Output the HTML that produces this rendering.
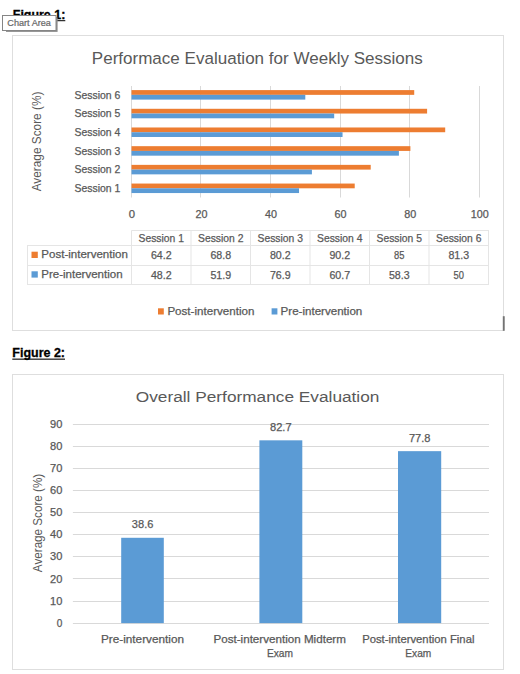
<!DOCTYPE html>
<html><head><meta charset="utf-8"><title>Figures</title>
<style>
html,body{margin:0;padding:0;background:#fff;width:520px;height:674px;overflow:hidden;}
svg{display:block;font-family:"Liberation Sans", sans-serif;}
</style></head>
<body>
<svg width="520" height="674" viewBox="0 0 520 674">
<defs><filter id="blur" x="-20%" y="-50%" width="140%" height="200%"><feGaussianBlur stdDeviation="0.5"/></filter></defs>
<rect x="0" y="0" width="520" height="674" fill="#fff"/>
<text x="12.8" y="18.9" font-size="12.85" text-anchor="start" fill="#000" font-weight="bold" textLength="52.5" lengthAdjust="spacingAndGlyphs" stroke="#000" stroke-width="0.3">Figure 1:</text>
<rect x="12.8" y="20.2" width="52.5" height="1" fill="#000" />
<rect x="12.5" y="35.5" width="491" height="295" fill="#fff" stroke="#dedede" stroke-width="1"/>
<text x="91.8" y="63.8" font-size="16.8" text-anchor="start" fill="#595959" textLength="331" lengthAdjust="spacingAndGlyphs" >Performace Evaluation for Weekly Sessions</text>
<line x1="131.5" y1="86" x2="131.5" y2="197.5" stroke="#d9d9d9" stroke-width="1" />
<line x1="200.5" y1="86" x2="200.5" y2="197.5" stroke="#d9d9d9" stroke-width="1" />
<line x1="270.5" y1="86" x2="270.5" y2="197.5" stroke="#d9d9d9" stroke-width="1" />
<line x1="340.5" y1="86" x2="340.5" y2="197.5" stroke="#d9d9d9" stroke-width="1" />
<line x1="409.5" y1="86" x2="409.5" y2="197.5" stroke="#d9d9d9" stroke-width="1" />
<line x1="479.5" y1="86" x2="479.5" y2="197.5" stroke="#d9d9d9" stroke-width="1" />
<rect x="131.5" y="183.55" width="223.22" height="4.75" fill="#ED7D31" />
<rect x="131.5" y="188.3" width="167.54" height="4.75" fill="#5B9BD5" />
<text x="120.3" y="192.1" font-size="10.6" text-anchor="end" fill="#595959" stroke="#595959" stroke-width="0.25" textLength="45.8" lengthAdjust="spacingAndGlyphs" >Session 1</text>
<rect x="131.5" y="164.86" width="239.22" height="4.75" fill="#ED7D31" />
<rect x="131.5" y="169.61" width="180.41" height="4.75" fill="#5B9BD5" />
<text x="120.3" y="173.41" font-size="10.6" text-anchor="end" fill="#595959" stroke="#595959" stroke-width="0.25" textLength="45.8" lengthAdjust="spacingAndGlyphs" >Session 2</text>
<rect x="131.5" y="146.17" width="278.9" height="4.75" fill="#ED7D31" />
<rect x="131.5" y="150.92" width="267.41" height="4.75" fill="#5B9BD5" />
<text x="120.3" y="154.72" font-size="10.6" text-anchor="end" fill="#595959" stroke="#595959" stroke-width="0.25" textLength="45.8" lengthAdjust="spacingAndGlyphs" >Session 3</text>
<rect x="131.5" y="127.48" width="313.7" height="4.75" fill="#ED7D31" />
<rect x="131.5" y="132.23" width="211.04" height="4.75" fill="#5B9BD5" />
<text x="120.3" y="136.03" font-size="10.6" text-anchor="end" fill="#595959" stroke="#595959" stroke-width="0.25" textLength="45.8" lengthAdjust="spacingAndGlyphs" >Session 4</text>
<rect x="131.5" y="108.79" width="295.6" height="4.75" fill="#ED7D31" />
<rect x="131.5" y="113.54" width="202.68" height="4.75" fill="#5B9BD5" />
<text x="120.3" y="117.34" font-size="10.6" text-anchor="end" fill="#595959" stroke="#595959" stroke-width="0.25" textLength="45.8" lengthAdjust="spacingAndGlyphs" >Session 5</text>
<rect x="131.5" y="90.1" width="282.72" height="4.75" fill="#ED7D31" />
<rect x="131.5" y="94.85" width="173.8" height="4.75" fill="#5B9BD5" />
<text x="120.3" y="98.65" font-size="10.6" text-anchor="end" fill="#595959" stroke="#595959" stroke-width="0.25" textLength="45.8" lengthAdjust="spacingAndGlyphs" >Session 6</text>
<text x="131.8" y="217.6" font-size="10.6" text-anchor="middle" fill="#595959" stroke="#595959" stroke-width="0.25" textLength="6.3" lengthAdjust="spacingAndGlyphs" >0</text>
<text x="201.4" y="217.6" font-size="10.6" text-anchor="middle" fill="#595959" stroke="#595959" stroke-width="0.25" textLength="12.0" lengthAdjust="spacingAndGlyphs" >20</text>
<text x="271.0" y="217.6" font-size="10.6" text-anchor="middle" fill="#595959" stroke="#595959" stroke-width="0.25" textLength="12.0" lengthAdjust="spacingAndGlyphs" >40</text>
<text x="340.6" y="217.6" font-size="10.6" text-anchor="middle" fill="#595959" stroke="#595959" stroke-width="0.25" textLength="12.0" lengthAdjust="spacingAndGlyphs" >60</text>
<text x="410.2" y="217.6" font-size="10.6" text-anchor="middle" fill="#595959" stroke="#595959" stroke-width="0.25" textLength="12.0" lengthAdjust="spacingAndGlyphs" >80</text>
<text x="479.8" y="217.6" font-size="10.6" text-anchor="middle" fill="#595959" stroke="#595959" stroke-width="0.25" textLength="18.0" lengthAdjust="spacingAndGlyphs" >100</text>
<text transform="translate(41.3,141.5) rotate(-90)" x="0" y="0" font-size="12" text-anchor="middle" fill="#595959" textLength="99.7" lengthAdjust="spacingAndGlyphs">Average Score (%)</text>
<line x1="131.5" y1="230.5" x2="489" y2="230.5" stroke="#e5e5e5" stroke-width="1" />
<line x1="27" y1="245.5" x2="489" y2="245.5" stroke="#e5e5e5" stroke-width="1" />
<line x1="27" y1="265.5" x2="489" y2="265.5" stroke="#e5e5e5" stroke-width="1" />
<line x1="27" y1="284.5" x2="489" y2="284.5" stroke="#e5e5e5" stroke-width="1" />
<line x1="27.5" y1="245.5" x2="27.5" y2="284.5" stroke="#e5e5e5" stroke-width="1" />
<line x1="131.5" y1="230.5" x2="131.5" y2="284.5" stroke="#e5e5e5" stroke-width="1" />
<line x1="191" y1="230.5" x2="191" y2="284.5" stroke="#e5e5e5" stroke-width="1" />
<line x1="250.5" y1="230.5" x2="250.5" y2="284.5" stroke="#e5e5e5" stroke-width="1" />
<line x1="310" y1="230.5" x2="310" y2="284.5" stroke="#e5e5e5" stroke-width="1" />
<line x1="369.5" y1="230.5" x2="369.5" y2="284.5" stroke="#e5e5e5" stroke-width="1" />
<line x1="429" y1="230.5" x2="429" y2="284.5" stroke="#e5e5e5" stroke-width="1" />
<line x1="488.5" y1="230.5" x2="488.5" y2="284.5" stroke="#e5e5e5" stroke-width="1" />
<text x="161.25" y="241.5" font-size="10.6" text-anchor="middle" fill="#595959" stroke="#595959" stroke-width="0.25" textLength="45.3" lengthAdjust="spacingAndGlyphs" >Session 1</text>
<text x="161.25" y="259.2" font-size="10.6" text-anchor="middle" fill="#595959" stroke="#595959" stroke-width="0.25" textLength="20.7" lengthAdjust="spacingAndGlyphs" >64.2</text>
<text x="161.25" y="278.5" font-size="10.6" text-anchor="middle" fill="#595959" stroke="#595959" stroke-width="0.25" textLength="20.7" lengthAdjust="spacingAndGlyphs" >48.2</text>
<text x="220.75" y="241.5" font-size="10.6" text-anchor="middle" fill="#595959" stroke="#595959" stroke-width="0.25" textLength="45.3" lengthAdjust="spacingAndGlyphs" >Session 2</text>
<text x="220.75" y="259.2" font-size="10.6" text-anchor="middle" fill="#595959" stroke="#595959" stroke-width="0.25" textLength="20.7" lengthAdjust="spacingAndGlyphs" >68.8</text>
<text x="220.75" y="278.5" font-size="10.6" text-anchor="middle" fill="#595959" stroke="#595959" stroke-width="0.25" textLength="20.7" lengthAdjust="spacingAndGlyphs" >51.9</text>
<text x="280.25" y="241.5" font-size="10.6" text-anchor="middle" fill="#595959" stroke="#595959" stroke-width="0.25" textLength="45.3" lengthAdjust="spacingAndGlyphs" >Session 3</text>
<text x="280.25" y="259.2" font-size="10.6" text-anchor="middle" fill="#595959" stroke="#595959" stroke-width="0.25" textLength="20.7" lengthAdjust="spacingAndGlyphs" >80.2</text>
<text x="280.25" y="278.5" font-size="10.6" text-anchor="middle" fill="#595959" stroke="#595959" stroke-width="0.25" textLength="20.7" lengthAdjust="spacingAndGlyphs" >76.9</text>
<text x="339.75" y="241.5" font-size="10.6" text-anchor="middle" fill="#595959" stroke="#595959" stroke-width="0.25" textLength="45.3" lengthAdjust="spacingAndGlyphs" >Session 4</text>
<text x="339.75" y="259.2" font-size="10.6" text-anchor="middle" fill="#595959" stroke="#595959" stroke-width="0.25" textLength="20.7" lengthAdjust="spacingAndGlyphs" >90.2</text>
<text x="339.75" y="278.5" font-size="10.6" text-anchor="middle" fill="#595959" stroke="#595959" stroke-width="0.25" textLength="20.7" lengthAdjust="spacingAndGlyphs" >60.7</text>
<text x="399.25" y="241.5" font-size="10.6" text-anchor="middle" fill="#595959" stroke="#595959" stroke-width="0.25" textLength="45.3" lengthAdjust="spacingAndGlyphs" >Session 5</text>
<text x="399.25" y="259.2" font-size="10.6" text-anchor="middle" fill="#595959" stroke="#595959" stroke-width="0.25" textLength="10.4" lengthAdjust="spacingAndGlyphs" >85</text>
<text x="399.25" y="278.5" font-size="10.6" text-anchor="middle" fill="#595959" stroke="#595959" stroke-width="0.25" textLength="20.7" lengthAdjust="spacingAndGlyphs" >58.3</text>
<text x="458.75" y="241.5" font-size="10.6" text-anchor="middle" fill="#595959" stroke="#595959" stroke-width="0.25" textLength="45.3" lengthAdjust="spacingAndGlyphs" >Session 6</text>
<text x="458.75" y="259.2" font-size="10.6" text-anchor="middle" fill="#595959" stroke="#595959" stroke-width="0.25" textLength="20.7" lengthAdjust="spacingAndGlyphs" >81.3</text>
<text x="458.75" y="278.5" font-size="10.6" text-anchor="middle" fill="#595959" stroke="#595959" stroke-width="0.25" textLength="10.4" lengthAdjust="spacingAndGlyphs" >50</text>
<rect x="31.5" y="251.7" width="6.3" height="6.3" fill="#ED7D31" />
<rect x="31.5" y="271.3" width="6.3" height="6.3" fill="#5B9BD5" />
<text x="41.3" y="258.4" font-size="10.6" text-anchor="start" fill="#595959" stroke="#595959" stroke-width="0.25" textLength="86.6" lengthAdjust="spacingAndGlyphs" >Post-intervention</text>
<text x="41.3" y="278.0" font-size="10.6" text-anchor="start" fill="#595959" stroke="#595959" stroke-width="0.25" textLength="81.3" lengthAdjust="spacingAndGlyphs" >Pre-intervention</text>
<rect x="158" y="308.3" width="5.8" height="6.2" fill="#ED7D31" />
<text x="167.4" y="315.1" font-size="10.6" text-anchor="start" fill="#595959" stroke="#595959" stroke-width="0.25" textLength="87" lengthAdjust="spacingAndGlyphs" >Post-intervention</text>
<rect x="271.6" y="308.3" width="5.8" height="6.2" fill="#5B9BD5" />
<text x="280.6" y="315.1" font-size="10.6" text-anchor="start" fill="#595959" stroke="#595959" stroke-width="0.25" textLength="81.7" lengthAdjust="spacingAndGlyphs" >Pre-intervention</text>
<rect x="502.8" y="316.2" width="1.9" height="14.6" fill="#737373" />
<text x="12.3" y="356.9" font-size="12.85" text-anchor="start" fill="#000" font-weight="bold" textLength="52.7" lengthAdjust="spacingAndGlyphs" stroke="#000" stroke-width="0.3">Figure 2:</text>
<rect x="12.3" y="358.6" width="52.7" height="1.1" fill="#000" />
<rect x="12.5" y="374.5" width="491" height="295" fill="#fff" stroke="#dedede" stroke-width="1"/>
<text x="135.8" y="401.5" font-size="15.4" text-anchor="start" fill="#595959" textLength="243.6" lengthAdjust="spacingAndGlyphs" >Overall Performance Evaluation</text>
<line x1="72.9" y1="623.5" x2="489" y2="623.5" stroke="#d9d9d9" stroke-width="1" />
<text x="62.3" y="626.7" font-size="10.6" text-anchor="end" fill="#595959" stroke="#595959" stroke-width="0.25" textLength="5.6" lengthAdjust="spacingAndGlyphs" >0</text>
<line x1="72.9" y1="601.5" x2="489" y2="601.5" stroke="#d9d9d9" stroke-width="1" />
<text x="62.3" y="604.6" font-size="10.6" text-anchor="end" fill="#595959" stroke="#595959" stroke-width="0.25" textLength="12.3" lengthAdjust="spacingAndGlyphs" >10</text>
<line x1="72.9" y1="578.5" x2="489" y2="578.5" stroke="#d9d9d9" stroke-width="1" />
<text x="62.3" y="582.5" font-size="10.6" text-anchor="end" fill="#595959" stroke="#595959" stroke-width="0.25" textLength="12.3" lengthAdjust="spacingAndGlyphs" >20</text>
<line x1="72.9" y1="556.5" x2="489" y2="556.5" stroke="#d9d9d9" stroke-width="1" />
<text x="62.3" y="560.4" font-size="10.6" text-anchor="end" fill="#595959" stroke="#595959" stroke-width="0.25" textLength="12.3" lengthAdjust="spacingAndGlyphs" >30</text>
<line x1="72.9" y1="534.5" x2="489" y2="534.5" stroke="#d9d9d9" stroke-width="1" />
<text x="62.3" y="538.3" font-size="10.6" text-anchor="end" fill="#595959" stroke="#595959" stroke-width="0.25" textLength="12.3" lengthAdjust="spacingAndGlyphs" >40</text>
<line x1="72.9" y1="512.5" x2="489" y2="512.5" stroke="#d9d9d9" stroke-width="1" />
<text x="62.3" y="516.2" font-size="10.6" text-anchor="end" fill="#595959" stroke="#595959" stroke-width="0.25" textLength="12.3" lengthAdjust="spacingAndGlyphs" >50</text>
<line x1="72.9" y1="490.5" x2="489" y2="490.5" stroke="#d9d9d9" stroke-width="1" />
<text x="62.3" y="494.1" font-size="10.6" text-anchor="end" fill="#595959" stroke="#595959" stroke-width="0.25" textLength="12.3" lengthAdjust="spacingAndGlyphs" >60</text>
<line x1="72.9" y1="468.5" x2="489" y2="468.5" stroke="#d9d9d9" stroke-width="1" />
<text x="62.3" y="472.0" font-size="10.6" text-anchor="end" fill="#595959" stroke="#595959" stroke-width="0.25" textLength="12.3" lengthAdjust="spacingAndGlyphs" >70</text>
<line x1="72.9" y1="446.5" x2="489" y2="446.5" stroke="#d9d9d9" stroke-width="1" />
<text x="62.3" y="449.9" font-size="10.6" text-anchor="end" fill="#595959" stroke="#595959" stroke-width="0.25" textLength="12.3" lengthAdjust="spacingAndGlyphs" >80</text>
<line x1="72.9" y1="424.5" x2="489" y2="424.5" stroke="#d9d9d9" stroke-width="1" />
<text x="62.3" y="427.8" font-size="10.6" text-anchor="end" fill="#595959" stroke="#595959" stroke-width="0.25" textLength="12.3" lengthAdjust="spacingAndGlyphs" >90</text>
<rect x="121.2" y="537.79" width="42.60000000000001" height="85.31" fill="#5B9BD5" />
<text x="142.6" y="528.39" font-size="10.6" text-anchor="middle" fill="#595959" stroke="#595959" stroke-width="0.25" textLength="21.5" lengthAdjust="spacingAndGlyphs" >38.6</text>
<rect x="259.4" y="440.33" width="42.900000000000034" height="182.77" fill="#5B9BD5" />
<text x="280.8" y="430.93" font-size="10.6" text-anchor="middle" fill="#595959" stroke="#595959" stroke-width="0.25" textLength="21.5" lengthAdjust="spacingAndGlyphs" >82.7</text>
<rect x="398.0" y="451.16" width="43.19999999999999" height="171.94" fill="#5B9BD5" />
<text x="419.7" y="441.76" font-size="10.6" text-anchor="middle" fill="#595959" stroke="#595959" stroke-width="0.25" textLength="21.5" lengthAdjust="spacingAndGlyphs" >77.8</text>
<text x="142.5" y="642.7" font-size="10.6" text-anchor="middle" fill="#595959" stroke="#595959" stroke-width="0.25" textLength="83" lengthAdjust="spacingAndGlyphs" >Pre-intervention</text>
<text x="279.7" y="642.7" font-size="10.6" text-anchor="middle" fill="#595959" stroke="#595959" stroke-width="0.25" textLength="132.5" lengthAdjust="spacingAndGlyphs" >Post-intervention Midterm</text>
<text x="279.9" y="657.3" font-size="10.6" text-anchor="middle" fill="#595959" stroke="#595959" stroke-width="0.25" textLength="26" lengthAdjust="spacingAndGlyphs" >Exam</text>
<text x="418.3" y="642.7" font-size="10.6" text-anchor="middle" fill="#595959" stroke="#595959" stroke-width="0.25" textLength="112.3" lengthAdjust="spacingAndGlyphs" >Post-intervention Final</text>
<text x="418.3" y="657.3" font-size="10.6" text-anchor="middle" fill="#595959" stroke="#595959" stroke-width="0.25" textLength="26" lengthAdjust="spacingAndGlyphs" >Exam</text>
<text transform="translate(42.4,523) rotate(-90)" x="0" y="0" font-size="12" text-anchor="middle" fill="#595959" textLength="98.3" lengthAdjust="spacingAndGlyphs">Average Score (%)</text>
<rect x="6" y="17.6" width="51.6" height="14.3" fill="#8c8c8c" filter="url(#blur)"/>
<rect x="2.5" y="15.5" width="53.5" height="15" fill="#fff" stroke="#858585" stroke-width="1"/>
<text x="7.3" y="25.7" font-size="9.2" text-anchor="start" fill="#666" textLength="43.6" lengthAdjust="spacingAndGlyphs" stroke="#666" stroke-width="0.2">Chart Area</text>
</svg>
</body></html>
